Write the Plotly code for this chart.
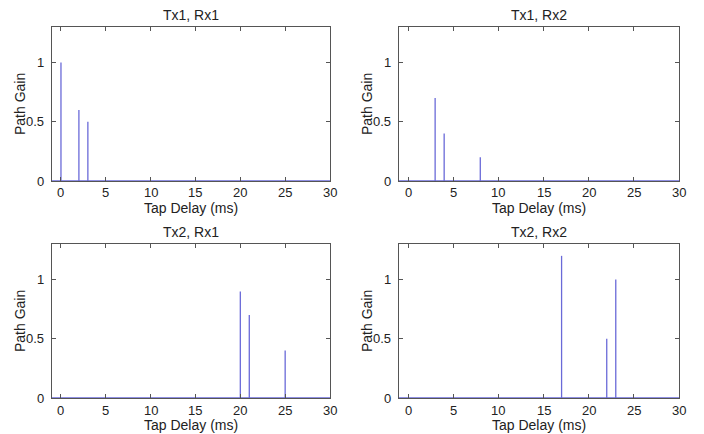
import plotly.graph_objects as go

titles = ["Tx1, Rx1", "Tx1, Rx2", "Tx2, Rx1", "Tx2, Rx2"]
x_label = "Tap Delay (ms)"
y_label = "Path Gain"
delays_11 = [0, 2, 3]
gains_11 = [1.0, 0.6, 0.5]
delays_12 = [3, 4, 8]
gains_12 = [0.7, 0.4, 0.2]
delays_21 = [20, 21, 25]
gains_21 = [0.9, 0.7, 0.4]
delays_22 = [17, 22, 23]
gains_22 = [1.2, 0.5, 1.0]
x_ticks = [0, 5, 10, 15, 20, 25, 30]
x_tick_text = ["0", "5", "10", "15", "20", "25", "30"]
y_ticks = [0, 0.5, 1]
y_tick_text = ["0", "0.5", "1"]
x_range = [-1, 30]
y_range = [0, 1.3]

series = [(delays_11, gains_11), (delays_12, gains_12), (delays_21, gains_21), (delays_22, gains_22)]

OFF = 8  # default page body margin
W, H = 696, 426
# screen-pixel boxes (left, right, top, bottom)
boxes = [(52, 330, 27, 181), (399, 679, 27, 181), (52, 330, 244, 398), (399, 679, 244, 398)]

STEM = "#6a6ad8"
FRAME = "#555555"
TXT = "#222222"
FONT = "Liberation Sans, Arial, sans-serif"


def fx(p):
    return (p - OFF) / W


def fy(p):
    return 1 - (p - OFF) / H


fig = go.Figure()
for i, ((d, g), (l, r, t, b)) in enumerate(zip(series, boxes)):
    n = "" if i == 0 else str(i + 1)
    xs, ys = [], []
    for dx, gy in zip(d, g):
        xs += [dx, dx, None]
        ys += [0, gy, None]
    fig.add_trace(go.Scatter(x=xs, y=ys, mode="lines", line=dict(color=STEM, width=1.3),
                             xaxis="x" + n, yaxis="y" + n, showlegend=False, hoverinfo="skip"))
    # baseline
    fig.add_trace(go.Scatter(x=x_range, y=[0, 0], mode="lines", line=dict(color=STEM, width=1.3),
                             xaxis="x" + n, yaxis="y" + n, showlegend=False, hoverinfo="skip"))
    ax = dict(range=x_range, tickvals=x_ticks, ticks="inside", ticklen=4, tickcolor=FRAME,
              showline=True, linecolor=FRAME, linewidth=1, mirror="ticks", showgrid=False,
              zeroline=False, domain=[fx(l), fx(r)], anchor="y" + n, automargin=False,
              showticklabels=False)
    ay = dict(range=y_range, tickvals=y_ticks, ticks="inside", ticklen=4,
              tickcolor=FRAME, showline=True, linecolor=FRAME, linewidth=1, mirror="ticks",
              showgrid=False, zeroline=False, domain=[fy(b), fy(t)], anchor="x" + n,
              automargin=False, showticklabels=False)
    fig.update_layout(**{"xaxis" + n: ax, "yaxis" + n: ay})
    # tick labels placed through the axes' own scales
    for xv, xt in zip(x_ticks, x_tick_text):
        fig.add_annotation(text=xt, x=xv, xref="x" + n, y=fy(b + 12), yref="paper",
                           xanchor="center", yanchor="middle", showarrow=False,
                           font=dict(size=13, color=TXT))
    for yv, yt in zip(y_ticks, y_tick_text):
        fig.add_annotation(text=yt, y=yv, yref="y" + n, x=fx(l - 6), xref="paper",
                           xanchor="right", yanchor="middle", showarrow=False,
                           font=dict(size=13, color=TXT))
    fig.add_annotation(text=titles[i], x=fx((l + r) / 2), y=fy(t - 12), xref="paper", yref="paper",
                       xanchor="center", yanchor="middle", showarrow=False,
                       font=dict(size=14, color=TXT))
    fig.add_annotation(text=x_label, x=fx((l + r) / 2), y=fy(b + 27), xref="paper", yref="paper",
                       xanchor="center", yanchor="middle", showarrow=False,
                       font=dict(size=14, color=TXT))
    fig.add_annotation(text=y_label, x=fx(l - 32), y=fy((t + b) / 2), xref="paper", yref="paper",
                       xanchor="center", yanchor="middle", showarrow=False, textangle=-90,
                       font=dict(size=14, color=TXT))

fig.update_layout(width=W, height=H, margin=dict(l=0, r=0, t=0, b=0, autoexpand=False),
                  paper_bgcolor="white", plot_bgcolor="white",
                  font=dict(family=FONT, size=13, color=TXT))
fig.write_html("out.html")
